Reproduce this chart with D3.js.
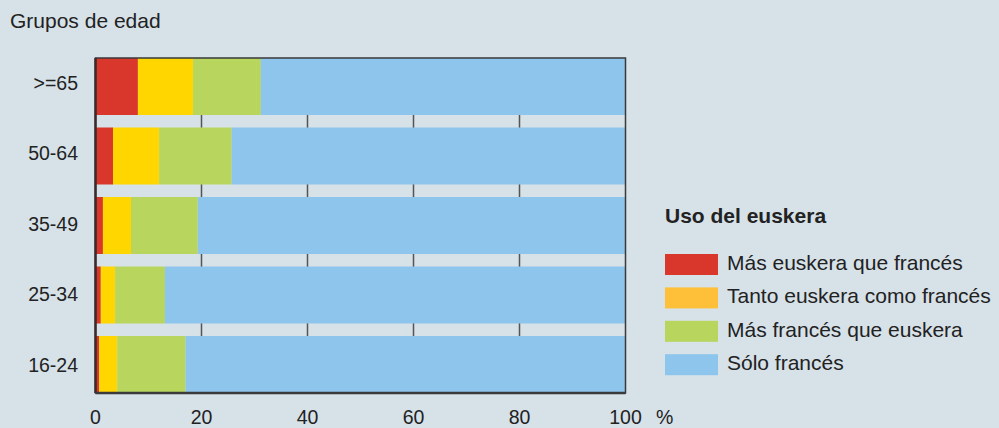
<!DOCTYPE html>
<html><head><meta charset="utf-8">
<script src="https://cdn.jsdelivr.net/npm/d3@7"></script>
<style>
html,body{margin:0;padding:0;background:#d6e1e8;}
svg{display:block;font-family:"Liberation Sans",Arial,Helvetica,sans-serif;}
</style></head>
<body>
<svg id="c" width="999" height="428"></svg>
<script>
const categories = [">=65","50-64","35-49","25-34","16-24"];
const seriesNames = ["Más euskera que francés","Tanto euskera como francés","Más francés que euskera","Sólo francés"];
const masEuskera   = [8.0, 3.3, 1.4, 1.0, 0.7];
const tanto        = [10.4, 8.7, 5.3, 2.7, 3.4];
const masFrances   = [12.8, 13.7, 12.6, 9.4, 12.9];
const soloFrances  = [68.8, 74.3, 80.7, 86.9, 83.0];
const xTicks = [0,20,40,60,80,100];
const barColors = ["#d9372c","#ffd600","#b8d65e","#8ec5ec"];
const legendColors = ["#d9372c","#fdc038","#b8d65e","#8ec5ec"];

const svg = d3.select("#c");
const m = {l:95.5, t:58, r:625.5, b:393};
const x = d3.scaleLinear().domain([0,100]).range([m.l, m.r]);
const y = d3.scaleBand().domain(categories).range([m.t, m.b]).paddingInner(0.18).paddingOuter(0);
const yLab = d3.scalePoint().domain(categories).range([83, 365]);

const rows = categories.map((c,i)=>({cat:c, v:[masEuskera[i],tanto[i],masFrances[i],soloFrances[i]]}));

// gridlines
svg.append("g").selectAll("line").data(xTicks.filter(t=>t>0&&t<100)).join("line")
  .attr("x1",d=>x(d)).attr("x2",d=>x(d)).attr("y1",m.t).attr("y2",m.b)
  .attr("stroke","#555").attr("stroke-width",1.5);

// bars
const g = svg.append("g");
rows.forEach(r=>{
  let acc=0;
  r.v.forEach((v,k)=>{
    g.append("rect").attr("x",x(acc)).attr("width",x(acc+v)-x(acc))
     .attr("y",y(r.cat)).attr("height",y.bandwidth()).attr("fill",barColors[k]);
    acc+=v;
  });
});

// frame
svg.append("rect").attr("x",m.l).attr("y",m.t).attr("width",m.r-m.l).attr("height",m.b-m.t)
  .attr("fill","none").attr("stroke","#3a3a3a").attr("stroke-width",1.5);
svg.append("line").attr("x1",m.l).attr("x2",m.l).attr("y1",m.t).attr("y2",m.b).attr("stroke","#3a2a2a").attr("stroke-width",2.5);
svg.append("line").attr("x1",m.l).attr("x2",m.r).attr("y1",m.b).attr("y2",m.b).attr("stroke","#3a3a3a").attr("stroke-width",2.5);

// x axis labels
svg.append("g").selectAll("text").data(xTicks).join("text")
  .attr("x",d=>x(d)).attr("y",424).attr("text-anchor","middle")
  .attr("font-size",19.5).attr("fill","#222").text(d=>d);
svg.append("text").attr("x",656).attr("y",424).attr("font-size",19.5).attr("fill","#222").text("%");

// y axis labels
svg.append("g").selectAll("text").data(categories).join("text")
  .attr("x",78).attr("y",d=>yLab(d)).attr("dy","0.35em").attr("text-anchor","end")
  .attr("font-size",19.5).attr("fill","#222").text(d=>d);

svg.append("text").attr("x",10).attr("y",28).attr("font-size",21).attr("fill","#222").text("Grupos de edad");

// legend
svg.append("text").attr("x",665).attr("y",223).attr("font-size",21).attr("font-weight","bold").attr("fill","#222").text("Uso del euskera");
const lg = svg.append("g");
seriesNames.forEach((n,i)=>{
  const yy = 254+i*33.4;
  lg.append("rect").attr("x",665).attr("y",yy).attr("width",53).attr("height",21).attr("fill",legendColors[i]);
  lg.append("text").attr("x",727).attr("y",yy+15.8).attr("font-size",21).attr("fill","#222").text(n);
});
</script>
</body></html>
